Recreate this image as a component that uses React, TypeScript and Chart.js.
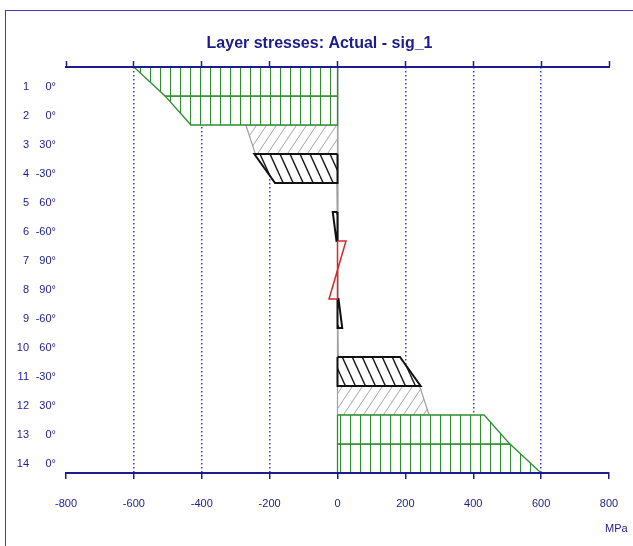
import React, { useEffect, useRef } from 'react';
import { Chart, registerables } from 'chart.js';

Chart.register(...registerables);

// Laminate plies, listed from the top surface down
const plyNumbers = ['1', '2', '3', '4', '5', '6', '7', '8', '9', '10', '11', '12', '13', '14'];
const plyAngles = ['0°', '0°', '30°', '-30°', '60°', '-60°', '90°', '90°', '-60°', '60°', '-30°', '30°', '0°', '0°'];

// sig_1 (MPa) at the top and bottom face of each ply
const stressTop = [-600, -508, -270, -245, -2, -14, 25, 0, 3, 1, 184, 242, 432, 508];
const stressBottom = [-508, -432, -242, -184, -1, -3, 0, -25, 14, 2, 245, 270, 508, 600];

const xTicks = [-800, -600, -400, -200, 0, 200, 400, 600, 800];
const titleText = 'Layer stresses: Actual - sig_1';
const unitText = 'MPa';

const NAVY = '#1c1c8c';
const FONT = "'Liberation Sans Narrow', 'Arial Narrow', 'Liberation Sans', Arial, sans-serif";

type Hatch = 'vertical' | 'slash' | 'backslash' | 'none';

function makePattern(w: number, h: number, stroke: string, lw: number, kind: Hatch): CanvasPattern | string {
  const c = document.createElement('canvas');
  c.width = w;
  c.height = h;
  const g = c.getContext('2d')!;
  g.fillStyle = '#ffffff';
  g.fillRect(0, 0, w, h);
  g.strokeStyle = stroke;
  g.lineWidth = lw;
  g.beginPath();
  if (kind === 'vertical') {
    g.moveTo(0.5, 0);
    g.lineTo(0.5, h);
  } else if (kind === 'slash') {
    for (const dx of [-w, 0, w]) {
      g.moveTo(dx, h);
      g.lineTo(dx + w, 0);
    }
  } else if (kind === 'backslash') {
    for (const dx of [-w, 0, w]) {
      g.moveTo(dx, 0);
      g.lineTo(dx + w, h);
    }
  }
  g.stroke();
  return g.createPattern(c, 'repeat') || '#ffffff';
}

function plyStyle(angle: string) {
  const a = parseFloat(angle);
  if (a === 0) {
    return { fill: makePattern(10, 10, '#2f8f2f', 1, 'vertical'), border: '#2f8f2f', width: 1.3, order: 1 };
  }
  if (a === 90) {
    return { fill: '#ffffff', border: '#d42a2a', width: 1.5, order: 0 };
  }
  if (a > 0) {
    return { fill: makePattern(10, 15, '#a4a4a4', 1, 'slash'), border: '#a0a0a0', width: 1.2, order: 3 };
  }
  return { fill: makePattern(10, 22, '#1a1a1a', 1.4, 'backslash'), border: '#111111', width: 2, order: 2 };
}

const unitLabel = {
  id: 'unitLabel',
  afterDraw(chart: any) {
    const { ctx, scales } = chart;
    const x = scales.x.getPixelForValue(xTicks[xTicks.length - 1]);
    ctx.save();
    ctx.fillStyle = NAVY;
    ctx.font = `11px ${FONT}`;
    ctx.textAlign = 'left';
    ctx.textBaseline = 'middle';
    ctx.fillText(unitText, x - 4, 529);
    ctx.restore();
  },
};

export default function App() {
  const canvasRef = useRef<HTMLCanvasElement | null>(null);

  useEffect(() => {
    if (!canvasRef.current) return;

    const datasets = plyAngles.map((angle, i) => {
      const st = plyStyle(angle);
      return {
        label: `${plyNumbers[i]} ${angle}`,
        data: [
          { x: 0, y: i },
          { x: stressTop[i], y: i },
          { x: stressBottom[i], y: i + 1 },
          { x: 0, y: i + 1 },
          { x: 0, y: i },
        ],
        showLine: true,
        fill: 'shape',
        backgroundColor: st.fill,
        borderColor: st.border,
        borderWidth: st.width,
        pointRadius: 0,
        pointHoverRadius: 0,
        tension: 0,
        order: st.order,
        xAxisID: 'x',
        yAxisID: 'y',
      };
    });

    const plyTicks = (scale: any) => {
      scale.ticks = plyNumbers.map((_, i) => ({ value: i + 0.5 }));
    };

    const chart = new Chart(canvasRef.current, {
      type: 'scatter',
      data: { datasets: datasets as any },
      options: {
        animation: false,
        responsive: false,
        events: [],
        // the title spans a slightly wider band than the canvas; the plot's
        // right margin comes from the x scales' own padding instead
        layout: { padding: { left: 0, right: -6, top: 0, bottom: 0 } },
        plugins: {
          legend: { display: false },
          tooltip: { enabled: false },
          title: {
            display: true,
            text: titleText,
            color: NAVY,
            font: { family: FONT, size: 16, weight: 'bold' },
            padding: { top: 34, bottom: 0 },
          },
        },
        scales: {
          x: {
            type: 'linear',
            position: 'bottom',
            min: -800,
            max: 800,
            afterBuildTicks: (s: any) => {
              s.ticks = xTicks.map((v) => ({ value: v }));
            },
            afterFit: (s: any) => {
              s.height = 73;
              s.paddingLeft = 0;
              s.paddingRight = 24;
            },
            ticks: {
              color: NAVY,
              font: { family: FONT, size: 11 },
              padding: 18,
              maxRotation: 0,
              autoSkip: false,
            },
            grid: {
              drawOnChartArea: true,
              drawTicks: true,
              tickLength: 6,
              tickColor: NAVY,
              tickWidth: 1.5,
              color: (c: any) => {
                const v = c.tick?.value;
                if (v === undefined || Math.abs(v) === 800) return 'rgba(0,0,0,0)';
                return v === 0 ? '#9c9c9c' : '#3a3ac8';
              },
              lineWidth: 1.5,
            },
            border: {
              display: true,
              color: NAVY,
              width: 2,
              z: 1,
              dash: (c: any) => (c.tick && c.tick.value !== 0 ? [1.5, 2.5] : []),
            },
          },
          x2: {
            type: 'linear',
            position: 'top',
            min: -800,
            max: 800,
            afterBuildTicks: (s: any) => {
              s.ticks = xTicks.map((v) => ({ value: v }));
            },
            afterFit: (s: any) => {
              s.height = 13.8;
              s.paddingLeft = 0;
              s.paddingRight = 24;
            },
            ticks: { display: false },
            grid: {
              drawOnChartArea: false,
              drawTicks: true,
              tickLength: 6,
              tickColor: NAVY,
              tickWidth: 1.5,
            },
            border: { display: true, color: NAVY, width: 2, z: 1 },
          },
          y: {
            type: 'linear',
            position: 'left',
            weight: 0,
            reverse: true,
            min: 0,
            max: 14,
            afterBuildTicks: plyTicks,
            afterFit: (s: any) => {
              s.width = 33;
            },
            ticks: {
              color: NAVY,
              font: { family: FONT, size: 11 },
              padding: 10,
              labelOffset: 5,
              autoSkip: false,
              callback: (_v: any, i: number) => plyAngles[i],
            },
            grid: { display: false, drawTicks: false, tickLength: 0 },
            border: { display: false },
          },
          y1: {
            type: 'linear',
            position: 'left',
            weight: 1,
            reverse: true,
            min: 0,
            max: 14,
            afterBuildTicks: plyTicks,
            afterFit: (s: any) => {
              s.width = 33;
            },
            ticks: {
              color: NAVY,
              font: { family: FONT, size: 11 },
              padding: 4,
              labelOffset: 5,
              autoSkip: false,
              callback: (_v: any, i: number) => plyNumbers[i],
            },
            grid: { display: false, drawTicks: false, tickLength: 0 },
            border: { display: false },
          },
        },
      } as any,
      plugins: [unitLabel],
    });

    return () => chart.destroy();
  }, []);

  return (
    <div style={{ position: 'fixed', left: 0, top: 0, width: 633, height: 546, overflow: 'hidden', background: '#ffffff' }}>
      <div
        style={{
          position: 'absolute',
          left: 5,
          top: 10,
          width: 700,
          height: 700,
          border: '1px solid #3b3bc4',
          boxSizing: 'border-box',
        }}
      />
      <canvas ref={canvasRef} width={633} height={546} style={{ position: 'absolute', left: 0, top: 0 }} />
    </div>
  );
}
